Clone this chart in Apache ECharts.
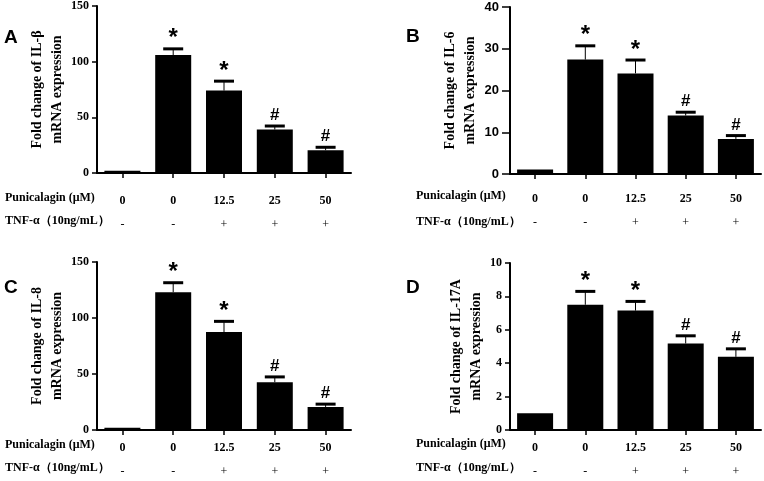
<!DOCTYPE html>
<html><head><meta charset="utf-8">
<script src="https://cdn.jsdelivr.net/npm/echarts@6/dist/echarts.min.js"></script>
<style>html,body{margin:0;padding:0;background:#fff}#c{width:764px;height:481px}</style>
</head><body><div id="c"></div>
<script>
const punicalagin = ['0', '0', '12.5', '25', '50'];
const tnf = ['-', '-', '+', '+', '+'];
const marks = ['', '*', '*', '#', '#'];
const rowLabel1 = 'Punicalagin (μM)';
const rowLabel2 = 'TNF-α（10ng/mL）';

const il1bMean = [2, 106, 74, 39, 20.5];
const il1bErr  = [0, 5.5, 8.5, 3.2, 2.6];
const il6Mean  = [1.1, 27.4, 24.1, 14.0, 8.4];
const il6Err   = [0, 3.3, 3.2, 0.8, 0.8];
const il8Mean  = [2, 123, 87.5, 42.7, 20.6];
const il8Err   = [0, 8.5, 9.5, 4.7, 2.5];
const il17Mean = [1.0, 7.5, 7.15, 5.18, 4.38];
const il17Err  = [0, 0.8, 0.55, 0.46, 0.48];

const panels = [
  {letter:'A', title:'Fold change of IL-β\nmRNA expression', mean:il1bMean, err:il1bErr, max:150, interval:50,
   grid:{left:97, top:6, width:254, height:167}, yFont:'serif', tick:5, labelMargin:16, nameGap:20, lx:4, ly:38, rx:5, ry1:200, ry2:223},
  {letter:'B', title:'Fold change of IL-6\nmRNA expression', mean:il6Mean, err:il6Err, max:40, interval:10,
   grid:{left:510, top:7, width:251, height:167}, yFont:'sans-serif', tick:8, labelMargin:13, nameGap:22, lx:406, ly:37, rx:416, ry1:198, ry2:224},
  {letter:'C', title:'Fold change of IL-8\nmRNA expression', mean:il8Mean, err:il8Err, max:150, interval:50,
   grid:{left:97, top:262, width:254, height:168}, yFont:'serif', tick:5, labelMargin:6, nameGap:20, lx:4, ly:288, rx:5, ry1:447, ry2:470},
  {letter:'D', title:'Fold change of IL-17A\nmRNA expression', mean:il17Mean, err:il17Err, max:10, interval:2,
   grid:{left:510, top:263, width:251, height:167}, yFont:'serif', tick:5, labelMargin:6, nameGap:17, lx:406, ly:288, rx:416, ry1:446, ry2:470}
];

const serif = '"Liberation Serif","Times New Roman",serif';
const sans = '"Liberation Sans",Arial,sans-serif';

const option = {animation:false, backgroundColor:'#fff', grid:[], xAxis:[], yAxis:[], series:[], graphic:[]};

panels.forEach((p, i) => {
  option.grid.push(Object.assign({containLabel:false}, p.grid));
  option.xAxis.push({
    type:'category', gridIndex:i, data:punicalagin.map((v, k) => k),
    axisLine:{lineStyle:{color:'#000', width:2}},
    axisTick:{show:true, alignWithLabel:true, length:5, lineStyle:{color:'#000', width:1.5}},
    axisLabel:{margin:p.labelMargin, interval:0,
      formatter:(v) => '{a|' + punicalagin[+v] + '}\n{b|' + tnf[+v] + '}',
      rich:{a:{fontFamily:serif, fontWeight:'bold', fontSize:12, lineHeight:24, color:'#000'},
            b:{fontFamily:serif, fontSize:12, lineHeight:24, color:'#000'}}}
  });
  option.yAxis.push({
    type:'value', gridIndex:i, min:0, max:p.max, interval:p.interval,
    name:p.title, nameLocation:'middle', nameRotate:90, nameGap:p.nameGap,
    nameTextStyle:{fontFamily:serif, fontWeight:'bold', fontSize:14, lineHeight:20, color:'#000'},
    axisLine:{show:true, lineStyle:{color:'#000', width:2}},
    axisTick:{show:true, length:p.tick, lineStyle:{color:'#000', width:1.5}},
    axisLabel:{margin:p.tick + 3, fontFamily:p.yFont === 'serif' ? serif : sans, fontWeight:'bold',
      fontSize:p.yFont === 'serif' ? 12 : 13, color:'#000'},
    splitLine:{show:false}
  });
  option.series.push({
    type:'bar', xAxisIndex:i, yAxisIndex:i, data:p.mean, barWidth:36,
    itemStyle:{color:'#000'}
  });
  option.series.push({
    type:'custom', xAxisIndex:i, yAxisIndex:i,
    data:p.mean.map((m, k) => [k, m, m + p.err[k]]),
    renderItem:(params, api) => {
      const k = api.value(0);
      const base = api.coord([k, api.value(1)]);
      const top = api.coord([k, api.value(2)]);
      const mk = marks[k];
      const children = [];
      if (api.value(2) - api.value(1) > 0.05) {
        children.push({type:'line', shape:{x1:base[0], y1:base[1], x2:top[0], y2:top[1]},
          style:{stroke:'#000', lineWidth:1}});
        children.push({type:'rect', shape:{x:top[0] - 10, y:top[1] - 1.5, width:20, height:3},
          style:{fill:'#000'}});
      }
      if (mk) {
        children.push({type:'text', style:{text:mk, x:top[0], y:mk === '*' ? top[1] + 2 : top[1] - 2,
          align:'center', verticalAlign:'bottom',
          font:(mk === '*' ? 'bold 24px ' : 'bold 17px ') + sans, fill:'#000'}});
      }
      return {type:'group', children:children};
    }
  });
  option.graphic.push({type:'text', left:p.lx, top:p.ly - 10,
    style:{text:p.letter, font:'bold 19px ' + sans, fill:'#000'}});
  option.graphic.push({type:'text', left:p.rx, top:p.ry1 - 8,
    style:{text:rowLabel1, font:'bold 12px ' + serif, fill:'#000'}});
  option.graphic.push({type:'text', left:p.rx, top:p.ry2 - 8,
    style:{text:rowLabel2, font:'bold 12px ' + serif, fill:'#000'}});
});

const chart = echarts.init(document.getElementById('c'), null, {renderer:'canvas'});
chart.setOption(option);
</script>
</body></html>
